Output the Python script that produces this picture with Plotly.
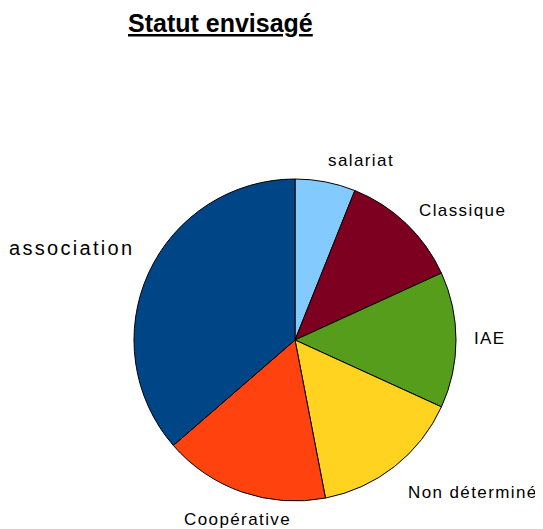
import plotly.graph_objects as go

W, H = 543, 529
OFF = 8  # page body margin

labels = ["salariat", "Classique", "IAE", "Non déterminé", "Coopérative", "association"]
values = [4, 8, 9, 10, 11, 24]
colors = ["#83caff", "#7e0021", "#579d1c", "#ffd320", "#ff420e", "#004586"]

title_text = "Statut envisagé"

cx, cy, r = 295 - OFF, 340 - OFF, 161

fig = go.Figure(go.Pie(
    labels=labels,
    values=values,
    sort=False,
    direction="clockwise",
    rotation=0,
    marker=dict(colors=colors, line=dict(color="black", width=1)),
    textinfo="none",
    hoverinfo="label+value+percent",
    showlegend=False,
    domain=dict(x=[(cx - r) / W, (cx + r) / W],
                y=[(H - cy - r) / H, (H - cy + r) / H]),
))

def px(x, y):
    return (x - OFF) / W, 1 - (y - OFF) / H

label_pos = {
    "association": (71, 248, 20, 2.3),
    "Coopérative": (237, 519, 17, 1.4),
    "Non déterminé": (473, 492, 17, 1.4),
    "IAE": (490, 338, 17, 1.4),
    "Classique": (462, 210, 17, 1.4),
    "salariat": (361, 160, 17, 1.4),
}

annotations = []
for lab in labels:
    x, y, fs, ls = label_pos[lab]
    ax, ay = px(x, y)
    annotations.append(dict(
        x=ax, y=ay, xref="paper", yref="paper", xanchor="center", yanchor="middle",
        text=f'<span style="letter-spacing:{ls}px">{lab}</span>', showarrow=False,
        font=dict(family="Liberation Sans, Arial, sans-serif", size=fs, color="black"),
    ))

tx, ty = px(220, 23)
annotations.append(dict(
    x=tx, y=ty, xref="paper", yref="paper", xanchor="center", yanchor="middle",
    text=f"<b><u>{title_text}</u></b>", showarrow=False,
    font=dict(family="Liberation Sans, Arial, sans-serif", size=25, color="black"),
))

fig.update_layout(
    width=W, height=H,
    margin=dict(l=0, r=0, t=0, b=0),
    paper_bgcolor="white", plot_bgcolor="white",
    annotations=annotations,
)

fig.write_html("out.html")
